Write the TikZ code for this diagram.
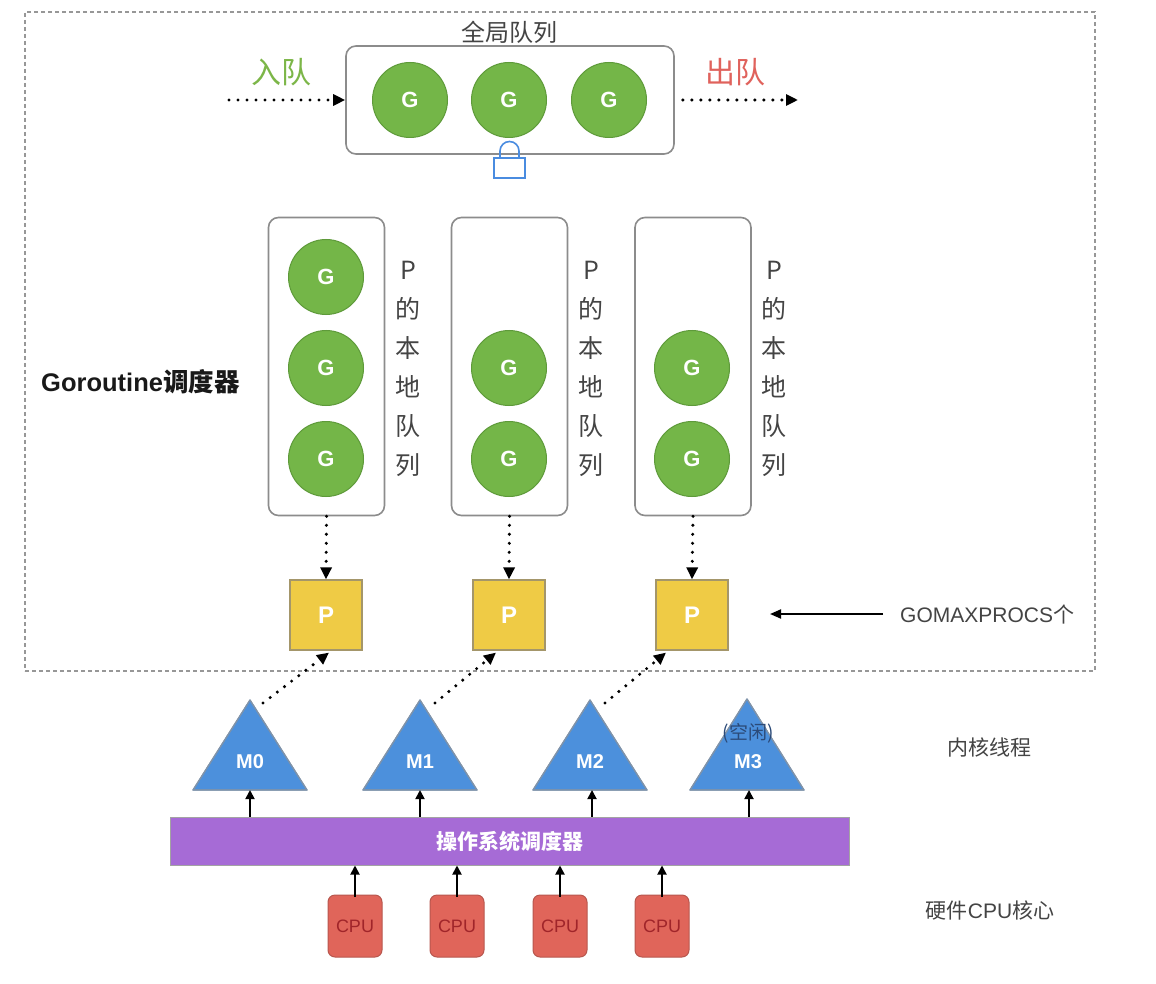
\documentclass[tikz,border=0pt]{standalone}
\usepackage{fontspec}
\setmainfont{Liberation Sans}
\newfontfamily\cjk{Noto Sans CJK SC}
\usetikzlibrary{arrows.meta}
\definecolor{ggreen}{HTML}{74B648}
\definecolor{gborder}{HTML}{5E9A3A}
\definecolor{boxgray}{HTML}{8C8C8C}
\definecolor{pyellow}{HTML}{EFCB45}
\definecolor{pborder}{HTML}{A4966A}
\definecolor{mblue}{HTML}{4C90DC}
\definecolor{mborder}{HTML}{7F93AA}
\definecolor{ospurple}{HTML}{A66BD6}
\definecolor{cpured}{HTML}{E0655A}
\definecolor{cpuborder}{HTML}{B8574E}
\definecolor{cputext}{HTML}{A0252A}
\definecolor{inqgreen}{HTML}{7CB648}
\definecolor{outqred}{HTML}{E0625C}
\definecolor{lockblue}{HTML}{4A8CE0}
\definecolor{txtgray}{HTML}{444444}
\definecolor{idleblue}{HTML}{2B4A78}
\begin{document}
\begin{tikzpicture}[x=1pt,y=-1pt,
  framebox/.style={draw=boxgray!90, line width=1.2pt, dash pattern=on 4pt off 3pt, inner sep=0},
  qbox/.style={draw=boxgray, line width=1.6pt, rounded corners=10pt, inner sep=0},
  gnode/.style={circle, fill=ggreen, draw=gborder, line width=1pt, minimum size=75pt, inner sep=0,
    text=white, font=\fontsize{22}{22}\selectfont\bfseries},
  pbox/.style={fill=pyellow, draw=pborder, line width=1.2pt, minimum width=72pt, minimum height=70pt,
    inner sep=0, text=white, font=\fontsize{24}{24}\selectfont\bfseries},
  mtri/.style={fill=mblue, draw=mborder, line width=1.2pt, line join=round},
  mlabel/.style={text=white, font=\fontsize{20}{20}\selectfont\bfseries, inner sep=0},
  osbar/.style={fill=ospurple, draw=boxgray!80, line width=1pt, minimum width=679pt, minimum height=48pt,
    inner sep=0, text=white, font=\fontsize{21}{21}\selectfont\cjk\bfseries},
  cpubox/.style={fill=cpured, draw=cpuborder, line width=1pt, rounded corners=7pt, minimum width=54pt,
    minimum height=62pt, inner sep=0, text=cputext, font=\fontsize{18}{18}\selectfont},
  dotarrow/.style={line width=3.4pt, dash pattern=on 0pt off 9pt, line cap=round,
    -{Triangle[length=12pt,width=11pt]}},
  arr/.style={line width=1.8pt, -{Triangle[length=9pt,width=9pt]}},
  sidelabel/.style={text=txtgray, font=\fontsize{21}{21}\selectfont, inner sep=0},
  vlabel/.style={text=txtgray, align=center, inner sep=0, font=\fontsize{25}{39}\selectfont\cjk}
]
\useasboundingbox (0,0) rectangle (1156,984);
\fill[white] (0,0) rectangle (1156,984);

% outer dashed frame
\node[framebox, minimum width=1070pt, minimum height=659pt] (frame) at (560,341.5) {};

% global queue
\node[text=txtgray, font=\fontsize{24}{24}\selectfont\cjk, inner sep=0] (gqlabel) at (509,32) {全局队列};
\node[qbox, minimum width=328pt, minimum height=108pt] (gq) at (510,100) {};
\node[gnode] (gg1) at (410,100) {G};
\node[gnode] (gg2) at (509,100) {G};
\node[gnode] (gg3) at (609,100) {G};
\node[text=inqgreen, font=\fontsize{30}{30}\selectfont\cjk, inner sep=0] (inq) at (281,72) {入队};
\node[text=outqred, font=\fontsize{30}{30}\selectfont\cjk, inner sep=0] (outq) at (735,72) {出队};
\coordinate (inStart) at (229,100);
\coordinate (outEnd) at (798,100);
\draw[dotarrow] (inStart) -- (gq.west);
\draw[dotarrow] ([xshift=8pt]gq.east) -- (outEnd);
% lock
\draw[lockblue, line width=1.6pt] (500,158) -- (500,151) arc[start angle=180, end angle=360, radius=9.5] -- (519,158);
\draw[lockblue, line width=1.6pt, fill=white] (494,158) rectangle (525,178);

% local queues
\node[qbox, minimum width=116pt, minimum height=298pt] (lq1) at (326.5,366.5) {};
\node[qbox, minimum width=116pt, minimum height=298pt] (lq2) at (509.5,366.5) {};
\node[qbox, minimum width=116pt, minimum height=298pt] (lq3) at (693,366.5) {};
\node[gnode] (l1g1) at (326,277) {G};
\node[gnode] (l1g2) at (326,368) {G};
\node[gnode] (l1g3) at (326,459) {G};
\node[gnode] (l2g1) at (509,368) {G};
\node[gnode] (l2g2) at (509,459) {G};
\node[gnode] (l3g1) at (692,368) {G};
\node[gnode] (l3g2) at (692,459) {G};
\node[vlabel] (v1) at (408,369) {P\\的\\本\\地\\队\\列};
\node[vlabel] (v2) at (591,369) {P\\的\\本\\地\\队\\列};
\node[vlabel] (v3) at (774,369) {P\\的\\本\\地\\队\\列};

\node[anchor=west, inner sep=0, text=black!90, font=\fontsize{25.5}{25.5}\selectfont\bfseries] (gsched) at (41,382) {Goroutine{\cjk 调度器}};

% P boxes
\node[pbox] (p1) at (326,615) {P};
\node[pbox] (p2) at (509,615) {P};
\node[pbox] (p3) at (692,615) {P};
\draw[dotarrow] (lq1.south) -- (p1.north);
\draw[dotarrow] (lq2.south) -- (p2.north);
\draw[dotarrow] (lq3.south) -- (p3.north);

\node[sidelabel, anchor=west] (gmx) at (900,614) {GOMAXPROCS{\cjk 个}};
\coordinate (gmxend) at (770,614);
\draw[line width=2pt, -{Triangle[length=11pt,width=9pt]}] ([xshift=-17pt]gmx.west) -- (gmxend);

% kernel threads
\fill[mtri] (193,790) -- (250,700) -- (307,790) -- cycle;
\fill[mtri] (363,790) -- (420,700) -- (477,790) -- cycle;
\fill[mtri] (533,790) -- (590,700) -- (647,790) -- cycle;
\fill[mtri] (690,790) -- (747,699) -- (804,790) -- cycle;
\draw[mborder, line width=1.2pt, line join=round] (193,790) -- (250,700) -- (307,790) -- cycle;
\draw[mborder, line width=1.2pt, line join=round] (363,790) -- (420,700) -- (477,790) -- cycle;
\draw[mborder, line width=1.2pt, line join=round] (533,790) -- (590,700) -- (647,790) -- cycle;
\draw[mborder, line width=1.2pt, line join=round] (690,790) -- (747,699) -- (804,790) -- cycle;
\node[mlabel] (m0) at (250,762) {M0};
\node[mlabel] (m1) at (420,762) {M1};
\node[mlabel] (m2) at (590,762) {M2};
\node[mlabel] (m3) at (748,762) {M3};
\node[text=idleblue, font=\fontsize{19}{19}\selectfont\cjk, inner sep=0] (idle) at (748,733) {(空闲)};
\coordinate (m0top) at (263,703);
\coordinate (m1top) at (435,703);
\coordinate (m2top) at (605,703);
\coordinate (m0base) at (250,790);
\coordinate (m1base) at (420,790);
\coordinate (m2base) at (592,790);
\coordinate (m3base) at (749,790);
\draw[dotarrow] (m0top) -- ([xshift=3pt,yshift=-2pt]p1.south);
\draw[dotarrow] (m1top) -- ([xshift=-13pt,yshift=-2pt]p2.south);
\draw[dotarrow] (m2top) -- ([xshift=-26pt,yshift=-2pt]p3.south);
\node[sidelabel] (kt) at (989,747) {\cjk 内核线程};

% OS scheduler
\node[osbar] (os) at (509.5,841) {操作系统调度器};
\draw[arr] (os.north -| m0base) -- (m0base);
\draw[arr] (os.north -| m1base) -- (m1base);
\draw[arr] (os.north -| m2base) -- (m2base);
\draw[arr] (os.north -| m3base) -- (m3base);

% CPUs
\node[cpubox] (c1) at (355,926) {CPU};
\node[cpubox] (c2) at (457,926) {CPU};
\node[cpubox] (c3) at (560,926) {CPU};
\node[cpubox] (c4) at (662,926) {CPU};
\draw[arr] ([yshift=-2pt]c1.north) -- (c1.north |- os.south);
\draw[arr] ([yshift=-2pt]c2.north) -- (c2.north |- os.south);
\draw[arr] ([yshift=-2pt]c3.north) -- (c3.north |- os.south);
\draw[arr] ([yshift=-2pt]c4.north) -- (c4.north |- os.south);
\node[sidelabel] (hw) at (990,910) {{\cjk 硬件}CPU{\cjk 核心}};
\end{tikzpicture}
\end{document}
